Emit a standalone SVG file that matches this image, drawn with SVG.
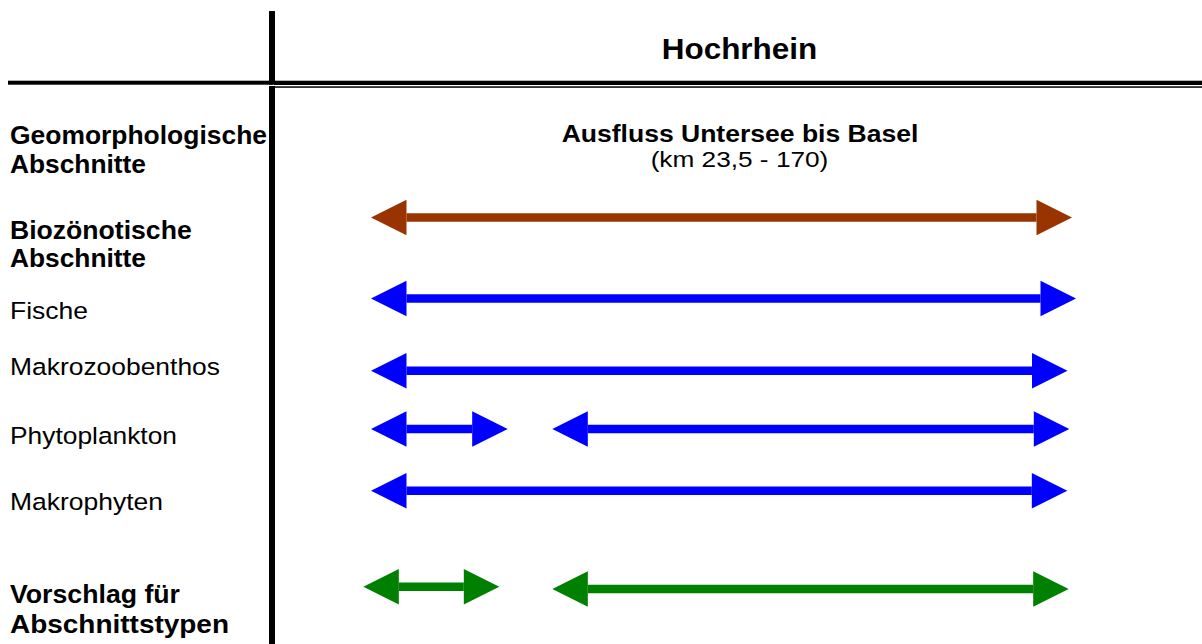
<svg xmlns="http://www.w3.org/2000/svg" width="1202" height="644" viewBox="0 0 1202 644">
<style>
text{font-family:"Liberation Sans",Arial,sans-serif;fill:#000}
.b{font-weight:bold;font-size:25.5px}
.r{font-size:24.5px}
.frame{fill:#000}
.brown{stroke:#993300;stroke-width:8.5;fill:none}
.blue{stroke:#0000FF;stroke-width:8.5;fill:none}
.green{stroke:#008000;stroke-width:8.5;fill:none}
</style>
<defs>
<marker id="hBrown" markerUnits="userSpaceOnUse" markerWidth="36" markerHeight="36" refX="0" refY="17.75" orient="auto-start-reverse" overflow="visible"><path d="M0,0 L35.5,17.75 L0,35.5 z" fill="#993300"/></marker>
<marker id="hBlue" markerUnits="userSpaceOnUse" markerWidth="36" markerHeight="36" refX="0" refY="17.75" orient="auto-start-reverse" overflow="visible"><path d="M0,0 L35.5,17.75 L0,35.5 z" fill="#0000FF"/></marker>
<marker id="hGreen" markerUnits="userSpaceOnUse" markerWidth="36" markerHeight="36" refX="0" refY="17.75" orient="auto-start-reverse" overflow="visible"><path d="M0,0 L35.5,17.75 L0,35.5 z" fill="#008000"/></marker>
</defs>

<g id="table-frame">
<rect class="frame" x="269" y="11" width="6" height="73.7"/>
<rect class="frame" x="269" y="86" width="6" height="558"/>
<rect class="frame" x="8" y="80.7" width="265" height="4"/>
<rect class="frame" x="274" y="80.7" width="928" height="4.3"/>
<rect class="frame" x="274" y="86.3" width="928" height="1.5"/>
</g>

<g id="header">
<text x="739.5" y="59.3" text-anchor="middle" style="font-weight:bold;font-size:29px" textLength="155.6" lengthAdjust="spacingAndGlyphs">Hochrhein</text>
</g>

<g id="geo-title">
<text x="740" y="141.7" text-anchor="middle" style="font-weight:bold;font-size:23.5px" textLength="356.7" lengthAdjust="spacingAndGlyphs">Ausfluss Untersee bis Basel</text>
<text x="739.5" y="166.7" text-anchor="middle" style="font-size:22.5px" textLength="177.7" lengthAdjust="spacingAndGlyphs">(km 23,5 - 170)</text>
</g>

<g id="labels">
<g id="label-geomorph">
<text class="b" x="10" y="143.5" textLength="257" lengthAdjust="spacingAndGlyphs">Geomorphologische</text>
<text class="b" x="10" y="172.5" textLength="136" lengthAdjust="spacingAndGlyphs">Abschnitte</text>
</g>
<g id="label-bio">
<text class="b" x="10" y="239.3" textLength="181.7" lengthAdjust="spacingAndGlyphs">Biozönotische</text>
<text class="b" x="10" y="267.3" textLength="136" lengthAdjust="spacingAndGlyphs">Abschnitte</text>
</g>
<g id="label-fische"><text class="r" x="10" y="319.3" textLength="78" lengthAdjust="spacingAndGlyphs">Fische</text></g>
<g id="label-makrozoo"><text class="r" x="10" y="375" textLength="210" lengthAdjust="spacingAndGlyphs">Makrozoobenthos</text></g>
<g id="label-phyto"><text class="r" x="10" y="444" textLength="167" lengthAdjust="spacingAndGlyphs">Phytoplankton</text></g>
<g id="label-makrophyten"><text class="r" x="10" y="509.5" textLength="153" lengthAdjust="spacingAndGlyphs">Makrophyten</text></g>
<g id="label-vorschlag">
<text class="b" x="10" y="603.3" textLength="170" lengthAdjust="spacingAndGlyphs">Vorschlag für</text>
<text class="b" x="10" y="633.3" textLength="219" lengthAdjust="spacingAndGlyphs">Abschnittstypen</text>
</g>
</g>

<g id="connectors">
<path class="brown" d="M406.5,217.5 L1036.5,217.5" marker-start="url(#hBrown)" marker-end="url(#hBrown)"/>
<path class="blue" d="M406.5,298.5 L1040.5,298.5" marker-start="url(#hBlue)" marker-end="url(#hBlue)"/>
<path class="blue" d="M406.5,370.7 L1032,370.7" marker-start="url(#hBlue)" marker-end="url(#hBlue)"/>
<path class="blue" d="M406.5,429 L472.2,429" marker-start="url(#hBlue)" marker-end="url(#hBlue)"/>
<path class="blue" d="M587.8,429 L1033.8,429" marker-start="url(#hBlue)" marker-end="url(#hBlue)"/>
<path class="blue" d="M406.5,490.7 L1031.8,490.7" marker-start="url(#hBlue)" marker-end="url(#hBlue)"/>
<path class="green" d="M398.8,586.7 L463.8,586.7" marker-start="url(#hGreen)" marker-end="url(#hGreen)"/>
<path class="green" d="M587.8,589 L1033.2,589" marker-start="url(#hGreen)" marker-end="url(#hGreen)"/>
</g>
</svg>
